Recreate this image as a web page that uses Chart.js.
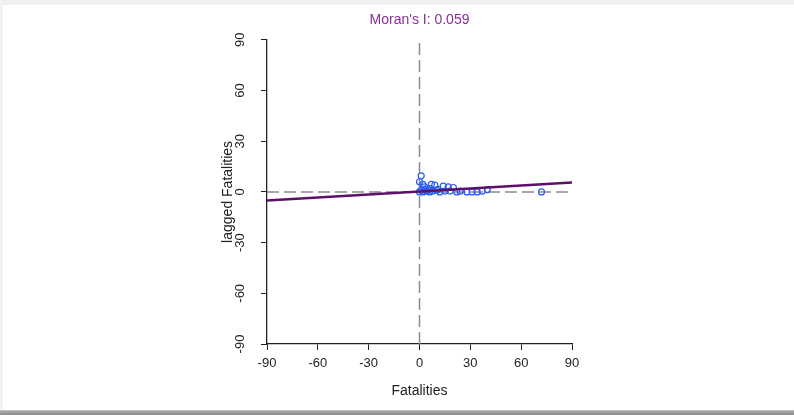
<!DOCTYPE html>
<html>
<head>
<meta charset="utf-8">
<script src="https://cdn.jsdelivr.net/npm/chart.js@4/dist/chart.umd.min.js"></script>
<style>
  html, body { margin: 0; padding: 0; background: #fff; }
  #wrap { width: 794px; height: 415px; }
</style>
</head>
<body>
<div id="wrap"><canvas id="moran" width="794" height="415"></canvas></div>
<script>
// Moran scatter: Fatalities vs spatially lagged Fatalities
const fatalities = [1, 0, 2, 7, 9, 14, 17, 20, 24, 28, 31, 34, 37, 40, 72,
  0, 1, 2, 3, 4, 5, 6, 8, 10, 12, 15, 18, 22, 3, 6, 11];
const laggedFatalities = [9.5, 6, 4.5, 4.5, 4, 3.4, 3, 2.6, 0.4, 0, 0, 0, 0.4, 1.4, 0,
  0, 1, 0, 1.5, 0.5, 1, 0, 0.5, 1, 0, 0.5, 0.5, 0, 3, 2, 1.5];
const fitX = [-90, 90];
const fitY = [-5.1, 5.6];
const axisRange = [-90, 90];
const tickStep = 30;
const moranI = 0.059;

const FONT = "'Liberation Sans', Arial, sans-serif";

const framePlugin = {
  id: "frame",
  beforeDraw(chart) {
    const { ctx, width, height } = chart;
    ctx.save();
    ctx.fillStyle = "#ffffff";
    ctx.fillRect(0, 0, width, height);
    ctx.fillStyle = "#efefef";
    ctx.fillRect(0, 0, width, 5);
    ctx.fillStyle = "#f3f3f3";
    ctx.fillRect(0, 0, 3, height);
    const g = ctx.createLinearGradient(0, height - 6, 0, height);
    g.addColorStop(0, "#d8d8d8");
    g.addColorStop(0.4, "#a8a8a8");
    g.addColorStop(1, "#8a8a8a");
    ctx.fillStyle = g;
    ctx.fillRect(0, height - 5, width, 5);
    ctx.restore();
  }
};

new Chart(document.getElementById("moran"), {
  type: "scatter",
  data: {
    datasets: [
      {
        label: "x0",
        type: "line",
        data: axisRange.map(v => ({ x: 0, y: v })),
        borderColor: "#8c8c8c",
        borderWidth: 1.5,
        borderDash: [12, 5],
        pointRadius: 0,
        order: 3
      },
      {
        label: "y0",
        type: "line",
        data: axisRange.map(v => ({ x: v, y: 0 })),
        borderColor: "#8c8c8c",
        borderWidth: 1.5,
        borderDash: [12, 5],
        pointRadius: 0,
        order: 3
      },
      {
        label: "obs",
        data: fatalities.map((x, i) => ({ x, y: laggedFatalities[i] })),
        pointStyle: "circle",
        pointRadius: 3,
        pointBorderWidth: 1.2,
        borderColor: "#2a5cf0",
        backgroundColor: "rgba(255,255,255,0)",
        order: 2
      },
      {
        label: "fit",
        type: "line",
        data: fitX.map((x, i) => ({ x, y: fitY[i] })),
        borderColor: "#5e1068",
        borderWidth: 2.5,
        pointRadius: 0,
        order: 1
      }
    ]
  },
  options: {
    responsive: false,
    animation: false,
    layout: { padding: { left: 200, right: 222, top: 0, bottom: 15 } },
    plugins: {
      legend: { display: false },
      tooltip: { enabled: false },
      title: {
        display: true,
        fullSize: false,
        text: "Moran's I: " + moranI.toFixed(3),
        color: "#8a2e98",
        font: { family: FONT, size: 14, weight: "normal" },
        padding: { top: 12, bottom: 11 }
      }
    },
    scales: {
      x: {
        type: "linear",
        min: axisRange[0], max: axisRange[1],
        afterFit: (s) => { s.height = 56; },
        ticks: { stepSize: tickStep, color: "#222", font: { family: FONT, size: 13 }, padding: 6, maxRotation: 0 },
        grid: { display: true, drawOnChartArea: false, drawTicks: true, tickLength: 6, color: "#222", lineWidth: 1 },
        border: { display: true, color: "#222", width: 1.3 },
        title: { display: true, text: "Fatalities", color: "#222", font: { family: FONT, size: 14 }, padding: { top: 4, bottom: 0 } }
      },
      y: {
        type: "linear",
        min: axisRange[0], max: axisRange[1],
        afterFit: (s) => { s.width = 67; },
        ticks: { stepSize: tickStep, color: "#222", font: { family: FONT, size: 13 }, padding: 11, minRotation: 90, maxRotation: 90, crossAlign: "center" },
        grid: { display: true, drawOnChartArea: false, drawTicks: true, tickLength: 6, color: "#222", lineWidth: 1 },
        border: { display: true, color: "#222", width: 1.3 },
        title: { display: true, text: "lagged Fatalities", color: "#222", font: { family: FONT, size: 14 }, padding: { top: 20, bottom: 0 } }
      }
    }
  },
  plugins: [framePlugin]
});
</script>
</body>
</html>
